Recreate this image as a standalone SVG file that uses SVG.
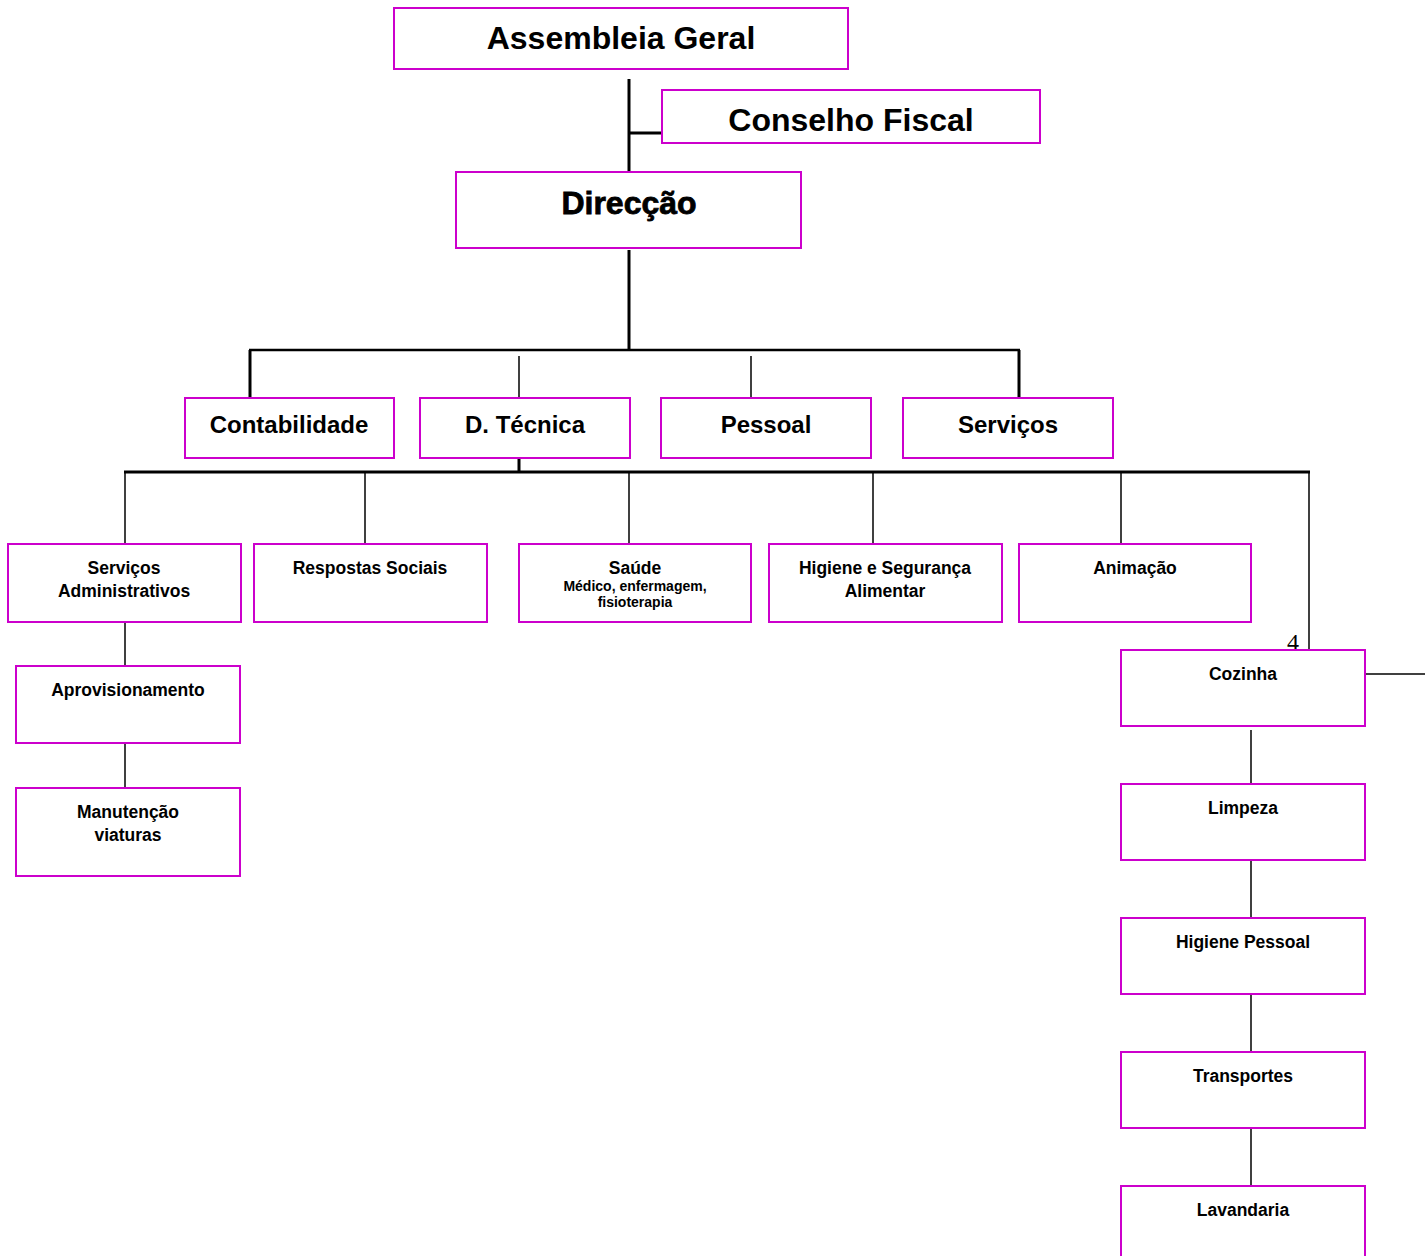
<svg xmlns="http://www.w3.org/2000/svg" width="1425" height="1256" viewBox="0 0 1425 1256">
<style>
.box{fill:#fff;stroke:#cc00cc;stroke-width:2}
.t{font-family:"Liberation Sans",Arial,sans-serif;font-weight:bold;fill:#000;text-anchor:middle}
.big{font-size:32px}
.mid{font-size:24px}
.sm{font-size:17.5px}
.xs{font-size:14px}
.c1{stroke:#000;stroke-width:1.5;fill:none}
.c2{stroke:#000;stroke-width:2.5;fill:none}
.c3{stroke:#000;stroke-width:3;fill:none}
</style>
<rect width="1425" height="1256" fill="#fff"/>
<g id="connectors">
<line class="c3" x1="629" y1="79" x2="629" y2="172"/>
<line class="c3" x1="629" y1="133" x2="662" y2="133"/>
<line class="c3" x1="629" y1="250" x2="629" y2="351"/>
<line class="c2" x1="249" y1="350" x2="1020" y2="350"/>
<line class="c3" x1="250" y1="350" x2="250" y2="398"/>
<line class="c1" x1="519" y1="356" x2="519" y2="398"/>
<line class="c1" x1="751" y1="356" x2="751" y2="398"/>
<line class="c3" x1="1019" y1="350" x2="1019" y2="398"/>
<line class="c3" x1="519" y1="458" x2="519" y2="472"/>
<line class="c3" x1="124" y1="472" x2="1310" y2="472"/>
<line class="c1" x1="125" y1="472" x2="125" y2="544"/>
<line class="c1" x1="365" y1="472" x2="365" y2="544"/>
<line class="c1" x1="629" y1="472" x2="629" y2="544"/>
<line class="c1" x1="873" y1="472" x2="873" y2="544"/>
<line class="c1" x1="1121" y1="472" x2="1121" y2="544"/>
<line class="c1" x1="1309" y1="472" x2="1309" y2="650"/>
<line class="c1" x1="125" y1="622" x2="125" y2="666"/>
<line class="c1" x1="125" y1="743" x2="125" y2="788"/>
<line class="c1" x1="1365" y1="674" x2="1425" y2="674"/>
<line class="c1" x1="1251" y1="730" x2="1251" y2="784"/>
<line class="c1" x1="1251" y1="860" x2="1251" y2="918"/>
<line class="c1" x1="1251" y1="994" x2="1251" y2="1052"/>
<line class="c1" x1="1251" y1="1128" x2="1251" y2="1186"/>
</g>
<g id="assembleia"><rect class="box" x="394" y="8" width="454" height="61"/><text class="t big" x="621" y="49">Assembleia Geral</text></g>
<g id="conselho"><rect class="box" x="662" y="90" width="378" height="53"/><text class="t big" x="851" y="131">Conselho Fiscal</text></g>
<g id="direccao"><rect class="box" x="456" y="172" width="345" height="76"/><text class="t big" x="629" y="214" stroke="#000" stroke-width="0.8">Direcção</text></g>
<g id="contabilidade"><rect class="box" x="185" y="398" width="209" height="60"/><text class="t mid" x="289" y="433">Contabilidade</text></g>
<g id="dtecnica"><rect class="box" x="420" y="398" width="210" height="60"/><text class="t mid" x="525" y="433">D. Técnica</text></g>
<g id="pessoal"><rect class="box" x="661" y="398" width="210" height="60"/><text class="t mid" x="766" y="433">Pessoal</text></g>
<g id="servicos"><rect class="box" x="903" y="398" width="210" height="60"/><text class="t mid" x="1008" y="433">Serviços</text></g>
<g id="servadmin"><rect class="box" x="8" y="544" width="233" height="78"/><text class="t sm" x="124" y="574">Serviços</text><text class="t sm" x="124" y="597">Administrativos</text></g>
<g id="respostas"><rect class="box" x="254" y="544" width="233" height="78"/><text class="t sm" x="370" y="574">Respostas Sociais</text></g>
<g id="saude"><rect class="box" x="519" y="544" width="232" height="78"/><text class="t sm" x="635" y="574">Saúde</text><text class="t xs" x="635" y="591">Médico, enfermagem,</text><text class="t xs" x="635" y="607">fisioterapia</text></g>
<g id="higieneseg"><rect class="box" x="769" y="544" width="233" height="78"/><text class="t sm" x="885" y="574">Higiene e Segurança</text><text class="t sm" x="885" y="597">Alimentar</text></g>
<g id="animacao"><rect class="box" x="1019" y="544" width="232" height="78"/><text class="t sm" x="1135" y="574">Animação</text></g>
<g id="aprovisionamento"><rect class="box" x="16" y="666" width="224" height="77"/><text class="t sm" x="128" y="696">Aprovisionamento</text></g>
<g id="manutencao"><rect class="box" x="16" y="788" width="224" height="88"/><text class="t sm" x="128" y="818">Manutenção</text><text class="t sm" x="128" y="841">viaturas</text></g>
<text x="1293" y="650" font-family="Liberation Serif,serif" font-size="24" text-anchor="middle">4</text>
<g id="cozinha"><rect class="box" x="1121" y="650" width="244" height="76"/><text class="t sm" x="1243" y="680">Cozinha</text></g>
<g id="limpeza"><rect class="box" x="1121" y="784" width="244" height="76"/><text class="t sm" x="1243" y="814">Limpeza</text></g>
<g id="higienepessoal"><rect class="box" x="1121" y="918" width="244" height="76"/><text class="t sm" x="1243" y="948">Higiene Pessoal</text></g>
<g id="transportes"><rect class="box" x="1121" y="1052" width="244" height="76"/><text class="t sm" x="1243" y="1082">Transportes</text></g>
<g id="lavandaria"><rect class="box" x="1121" y="1186" width="244" height="80"/><text class="t sm" x="1243" y="1216">Lavandaria</text></g>
</svg>
